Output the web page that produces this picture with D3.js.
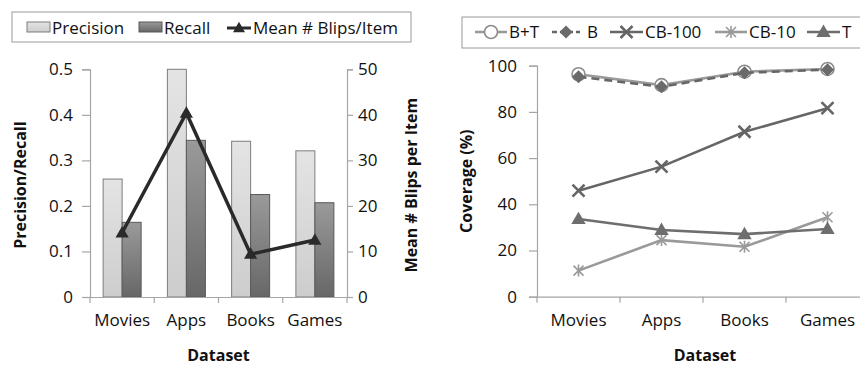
<!DOCTYPE html>
<html>
<head>
<meta charset="utf-8">
<script src="https://cdn.jsdelivr.net/npm/d3@7"></script>
<style>
  html, body { margin: 0; padding: 0; background: #fff; }
  svg { display: block; }
  text { font-family: "Open Sans", "Noto Sans", sans-serif; fill: #111; }
</style>
</head>
<body>
<svg id="chart" width="860" height="370"></svg>
<script>
// Left panel: precision/recall bars with mean blips line
const datasets = ["Movies", "Apps", "Books", "Games"];
const precision = [0.259, 0.5, 0.342, 0.321];
const recall = [0.164, 0.344, 0.225, 0.207];
const meanBlips = [14.1, 40.4, 9.4, 12.5];
const leftTicks = [0, 0.1, 0.2, 0.3, 0.4, 0.5];
const rightTicks = [0, 10, 20, 30, 40, 50];

// Right panel: coverage series
const coverageBT = [96.3, 91.6, 97.4, 98.6];
const coverageB = [95.2, 90.9, 96.9, 98.3];
const coverageCB100 = [45.9, 56.3, 71.4, 81.6];
const coverageCB10 = [11.3, 24.5, 21.6, 34.4];
const coverageT = [33.6, 28.9, 27.1, 29.3];
const coverageTicks = [0, 20, 40, 60, 80, 100];

const svg = d3.select("#chart");
const axisGray = "#a6a6a6";
const fontSize = 17;

const defs = svg.append("defs");
function gradient(id, top, bottom) {
  const g = defs.append("linearGradient").attr("id", id)
    .attr("x1", 0).attr("y1", 0).attr("x2", 0).attr("y2", 1);
  g.append("stop").attr("offset", "0%").attr("stop-color", top);
  g.append("stop").attr("offset", "100%").attr("stop-color", bottom);
}
gradient("gPrec", "#e4e4e4", "#cdcdcd");
gradient("gRec", "#9a9a9a", "#676767");

function styleAxis(g) {
  g.selectAll(".domain").attr("stroke", axisGray).attr("stroke-width", 1.2);
  g.selectAll(".tick line").attr("stroke", axisGray).attr("stroke-width", 1.2);
  g.selectAll(".tick text").style("font-size", fontSize + "px")
    .style("font-family", '"Open Sans", sans-serif').attr("fill", "#111");
}

// ---------- Left panel ----------
const L = { x0: 90, x1: 347, y0: 297, y1: 69.3 };
const xL = d3.scaleBand().domain(datasets).range([L.x0, L.x1]);
const yL = d3.scaleLinear().domain([0, 0.5]).range([L.y0, L.y1]);
const yR = d3.scaleLinear().domain([0, 50]).range([L.y0, L.y1]);

const barW = 19;
const left = svg.append("g");

left.selectAll("rect.prec").data(datasets).join("rect")
  .attr("class", "prec")
  .attr("x", d => xL(d) + xL.bandwidth() / 2 - barW)
  .attr("y", (d, i) => yL(precision[i]))
  .attr("width", barW)
  .attr("height", (d, i) => L.y0 - yL(precision[i]))
  .attr("fill", "url(#gPrec)").attr("stroke", "#7d7d7d").attr("stroke-width", 1);

left.selectAll("rect.rec").data(datasets).join("rect")
  .attr("class", "rec")
  .attr("x", d => xL(d) + xL.bandwidth() / 2)
  .attr("y", (d, i) => yL(recall[i]))
  .attr("width", barW)
  .attr("height", (d, i) => L.y0 - yL(recall[i]))
  .attr("fill", "url(#gRec)").attr("stroke", "#595959").attr("stroke-width", 1);

// axes
const axL = left.append("g").attr("transform", `translate(${L.x0},0)`)
  .call(d3.axisLeft(yL).tickValues(leftTicks).tickFormat(d => d === 0 ? "0" : d3.format(".1f")(d)).tickSize(8).tickPadding(9));
styleAxis(axL);
const axR = left.append("g").attr("transform", `translate(${L.x1},0)`)
  .call(d3.axisRight(yR).tickValues(rightTicks).tickFormat(d3.format("d")).tickSize(6).tickPadding(5));
styleAxis(axR);
const axB = left.append("g").attr("transform", `translate(0,${L.y0})`)
  .call(d3.axisBottom(xL).tickSize(0).tickPadding(17));
styleAxis(axB);
axB.selectAll(".tick line").remove();
left.append("g").selectAll("line").data(d3.range(datasets.length + 1)).join("line")
  .attr("x1", i => L.x0 + i * xL.bandwidth()).attr("x2", i => L.x0 + i * xL.bandwidth())
  .attr("y1", L.y0).attr("y2", L.y0 + 6).attr("stroke", axisGray).attr("stroke-width", 1.2);

// mean blips line
const triPath = (s) => `M0,${-s * 0.62}L${s * 0.6},${s * 0.42}L${-s * 0.6},${s * 0.42}Z`;
const blipLine = d3.line().x((d, i) => xL(datasets[i]) + xL.bandwidth() / 2).y(d => yR(d));
left.append("path").datum(meanBlips).attr("d", blipLine)
  .attr("fill", "none").attr("stroke", "#2a2a2a").attr("stroke-width", 3.5).attr("stroke-linejoin", "miter");
left.selectAll("path.tri").data(meanBlips).join("path").attr("class", "tri")
  .attr("transform", (d, i) => `translate(${xL(datasets[i]) + xL.bandwidth() / 2},${yR(d)})`)
  .attr("d", triPath(11)).attr("fill", "#2a2a2a");

// titles
left.append("text").attr("transform", `translate(26,${(L.y0 + L.y1) / 2 + 2}) rotate(-90)`)
  .attr("text-anchor", "middle").style("font-size", "16px").style("font-weight", "bold").text("Precision/Recall");
left.append("text").attr("transform", `translate(417,${(L.y0 + L.y1) / 2 + 2}) rotate(-90)`)
  .attr("text-anchor", "middle").style("font-size", "16px").style("font-weight", "bold").text("Mean # Blips per Item");
left.append("text").attr("x", (L.x0 + L.x1) / 2).attr("y", 361)
  .attr("text-anchor", "middle").style("font-size", "16px").style("font-weight", "bold").text("Dataset");

// legend
const lg = svg.append("g");
lg.append("rect").attr("x", 12).attr("y", 12).attr("width", 399).attr("height", 30)
  .attr("fill", "#fff").attr("stroke", "#9a9a9a").attr("stroke-width", 1);
lg.append("rect").attr("x", 27).attr("y", 22).attr("width", 23).attr("height", 10)
  .attr("fill", "url(#gPrec)").attr("stroke", "#7d7d7d");
lg.append("text").attr("x", 52).attr("y", 34).style("font-size", fontSize + "px").text("Precision");
lg.append("rect").attr("x", 139).attr("y", 22).attr("width", 23).attr("height", 10)
  .attr("fill", "url(#gRec)").attr("stroke", "#595959");
lg.append("text").attr("x", 164).attr("y", 34).style("font-size", fontSize + "px").text("Recall");
lg.append("line").attr("x1", 227).attr("x2", 251).attr("y1", 28).attr("y2", 28)
  .attr("stroke", "#2a2a2a").attr("stroke-width", 3);
lg.append("path").attr("transform", "translate(239,28)").attr("d", triPath(10)).attr("fill", "#2a2a2a");
lg.append("text").attr("x", 253).attr("y", 34).style("font-size", fontSize + "px").text("Mean # Blips/Item");

// ---------- Right panel ----------
const R = { x0: 537, x1: 869, y0: 296.7, y1: 65.7 };
const xC = d3.scaleBand().domain(datasets).range([R.x0, R.x1]);
const yC = d3.scaleLinear().domain([0, 100]).range([R.y0, R.y1]);
const right = svg.append("g");

const axC = right.append("g").attr("transform", `translate(${R.x0},0)`)
  .call(d3.axisLeft(yC).tickValues(coverageTicks).tickFormat(d3.format("d")).tickSize(8).tickPadding(12));
styleAxis(axC);
const axCB = right.append("g").attr("transform", `translate(0,${R.y0})`)
  .call(d3.axisBottom(xC).tickSize(0).tickPadding(17));
styleAxis(axCB);
right.append("g").selectAll("line").data(d3.range(datasets.length + 1)).join("line")
  .attr("x1", i => R.x0 + i * xC.bandwidth()).attr("x2", i => R.x0 + i * xC.bandwidth())
  .attr("y1", R.y0).attr("y2", R.y0 + 6).attr("stroke", axisGray).attr("stroke-width", 1.2);

right.append("text").attr("transform", `translate(472,${(R.y0 + R.y1) / 2}) rotate(-90)`)
  .attr("text-anchor", "middle").style("font-size", "16px").style("font-weight", "bold").text("Coverage (%)");
right.append("text").attr("x", 705).attr("y", 361)
  .attr("text-anchor", "middle").style("font-size", "16px").style("font-weight", "bold").text("Dataset");

// marker shapes
const markers = {
  circle: g => g.append("circle").attr("r", 6.5).attr("fill", "#fff").attr("stroke", "#8c8c8c").attr("stroke-width", 1.6),
  diamond: g => g.append("path").attr("d", "M0,-6.5L6.5,0L0,6.5L-6.5,0Z").attr("fill", "#6a6a6a"),
  x: g => g.append("path").attr("d", "M-6,-6L6,6M-6,6L6,-6").attr("stroke", "#666").attr("stroke-width", 2.6).attr("fill", "none"),
  asterisk: g => g.append("path").attr("d", "M-5,-5L5,5M-5,5L5,-5M0,-6L0,6").attr("stroke", "#9a9a9a").attr("stroke-width", 1.6).attr("fill", "none"),
  triangle: g => g.append("path").attr("d", triPath(12)).attr("fill", "#6e6e6e")
};

const series = [
  { name: "B+T", values: coverageBT, color: "#9a9a9a", width: 2.6, dash: null, marker: "circle" },
  { name: "B", values: coverageB, color: "#666", width: 2.6, dash: "8,5", marker: "diamond" },
  { name: "CB-100", values: coverageCB100, color: "#666", width: 2.6, dash: null, marker: "x" },
  { name: "CB-10", values: coverageCB10, color: "#9a9a9a", width: 2.6, dash: null, marker: "asterisk" },
  { name: "T", values: coverageT, color: "#6e6e6e", width: 2.6, dash: null, marker: "triangle" }
];

const covLine = d3.line().x((d, i) => xC(datasets[i]) + xC.bandwidth() / 2).y(d => yC(d));
series.forEach(s => {
  const g = right.append("g");
  g.append("path").datum(s.values).attr("d", covLine).attr("fill", "none")
    .attr("stroke", s.color).attr("stroke-width", s.width)
    .attr("stroke-dasharray", s.dash);
  s.values.forEach((v, i) => {
    const m = g.append("g").attr("transform", `translate(${xC(datasets[i]) + xC.bandwidth() / 2},${yC(v)})`);
    markers[s.marker](m);
  });
});

// coverage legend
const lg2 = svg.append("g");
lg2.append("rect").attr("x", 462).attr("y", 17).attr("width", 402).attr("height", 31)
  .attr("fill", "#fff").attr("stroke", "#9a9a9a").attr("stroke-width", 1);
const legendPos = [
  { x1: 475, x2: 507, tx: 509 },
  { x1: 552, x2: 580, tx: 587 },
  { x1: 610, x2: 643, tx: 645 },
  { x1: 715, x2: 747, tx: 749 },
  { x1: 807, x2: 840, tx: 842 }
];
series.forEach((s, i) => {
  const p = legendPos[i];
  lg2.append("line").attr("x1", p.x1).attr("x2", p.x2).attr("y1", 32).attr("y2", 32)
    .attr("stroke", s.color).attr("stroke-width", s.width).attr("stroke-dasharray", s.dash ? "5,3" : null);
  const m = lg2.append("g").attr("transform", `translate(${(p.x1 + p.x2) / 2},32)`);
  markers[s.marker](m);
  lg2.append("text").attr("x", p.tx).attr("y", 38).style("font-size", fontSize + "px").text(s.name);
});
</script>
</body>
</html>
